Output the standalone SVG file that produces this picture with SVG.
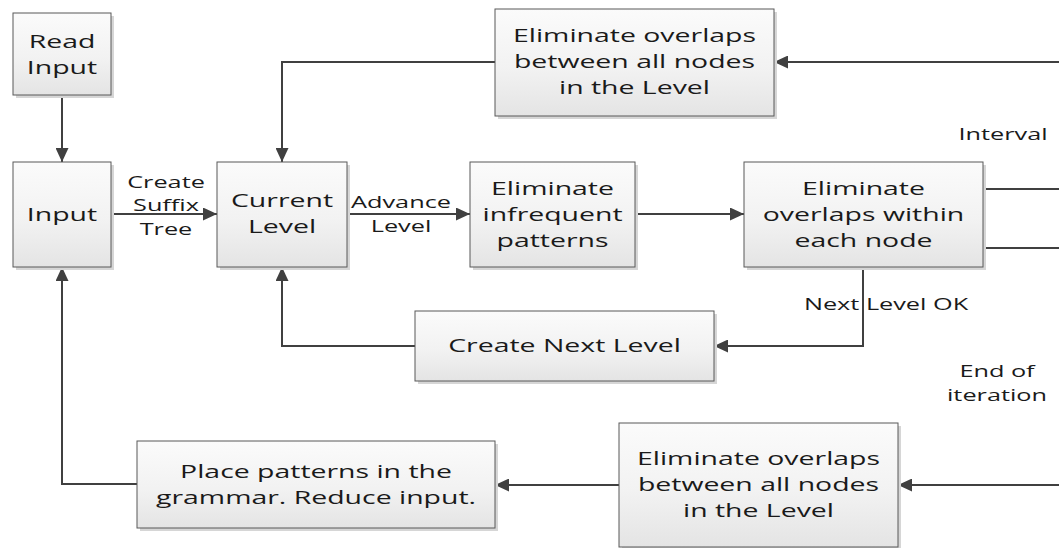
<svg xmlns="http://www.w3.org/2000/svg" width="1059" height="548" viewBox="0 0 1059 548">
  <style>
    .box { fill: url(#boxFill); stroke: #595959; stroke-width: 1; }
    .shadow { fill: #d6d6d6; }
    .edge { fill: none; stroke: #404040; stroke-width: 2; }
    .arrow { marker-end: url(#head); }
    .node { font-family: "Open Sans", "DejaVu Sans", sans-serif; font-size: 18px; fill: #1a1a1a; text-anchor: middle; }
    .lbl { font-family: "Open Sans", "DejaVu Sans", sans-serif; font-size: 16px; fill: #1a1a1a; text-anchor: middle; }
  </style>
  <defs>
    <linearGradient id="boxFill" x1="0" y1="0" x2="0" y2="1">
      <stop offset="0" stop-color="#fbfbfb"/>
      <stop offset="0.55" stop-color="#f2f2f2"/>
      <stop offset="1" stop-color="#e4e4e4"/>
    </linearGradient>
    <marker id="head" markerUnits="userSpaceOnUse" markerWidth="14" markerHeight="13" refX="14" refY="6.5" orient="auto">
      <path d="M0,0 L14,6.5 L0,13 z" fill="#404040"/>
    </marker>
  </defs>

  <!-- connectors -->
  <g id="connectors">
    <path class="edge arrow" d="M62,95 V162"/>
    <path class="edge arrow" d="M111,214 H217"/>
    <path class="edge arrow" d="M347,214 H470"/>
    <path class="edge arrow" d="M635,214 H744"/>
    <path class="edge" d="M983,189 H1059"/>
    <path class="edge" d="M983,248 H1059"/>
    <path class="edge arrow" d="M1059,62 H774"/>
    <path class="edge arrow" d="M495,62 H282 V162"/>
    <path class="edge arrow" d="M863,267 V346 H714"/>
    <path class="edge arrow" d="M415,346 H282 V267"/>
    <path class="edge arrow" d="M1059,485 H898"/>
    <path class="edge arrow" d="M619,485 H495"/>
    <path class="edge arrow" d="M137,484 H62 V267"/>
  </g>

  <!-- connector labels -->
  <g id="labels">
    <text class="lbl" transform="translate(166,0) scale(1.58,1)"><tspan x="0" y="188">Create</tspan><tspan x="0" y="211">Suffix</tspan><tspan x="0" y="235">Tree</tspan></text>
    <text class="lbl" transform="translate(401,0) scale(1.58,1)"><tspan x="0" y="208">Advance</tspan><tspan x="0" y="232">Level</tspan></text>
    <text class="lbl" transform="translate(1003,0) scale(1.58,1)"><tspan x="0" y="140">Interval</tspan></text>
    <text class="lbl" transform="translate(886,0) scale(1.58,1)"><tspan x="0" y="310">Next Level OK</tspan></text>
    <text class="lbl" transform="translate(997,0) scale(1.58,1)"><tspan x="0" y="377">End of</tspan><tspan x="0" y="401">iteration</tspan></text>
  </g>

  <g id="read-input">
    <rect class="shadow" x="16" y="16" width="98" height="82"/>
    <rect class="box" x="13" y="13" width="98" height="82"/>
    <text class="node" transform="translate(62,0) scale(1.58,1)"><tspan x="0" y="48">Read</tspan><tspan x="0" y="74">Input</tspan></text>
  </g>

  <g id="input">
    <rect class="shadow" x="16" y="165" width="98" height="105"/>
    <rect class="box" x="13" y="162" width="98" height="105"/>
    <text class="node" transform="translate(62,0) scale(1.58,1)"><tspan x="0" y="221">Input</tspan></text>
  </g>

  <g id="current-level">
    <rect class="shadow" x="220" y="165" width="130" height="105"/>
    <rect class="box" x="217" y="162" width="130" height="105"/>
    <text class="node" transform="translate(282,0) scale(1.58,1)"><tspan x="0" y="207">Current</tspan><tspan x="0" y="233">Level</tspan></text>
  </g>

  <g id="eliminate-infrequent">
    <rect class="shadow" x="473" y="165" width="165" height="105"/>
    <rect class="box" x="470" y="162" width="165" height="105"/>
    <text class="node" transform="translate(552.5,0) scale(1.58,1)"><tspan x="0" y="195">Eliminate</tspan><tspan x="0" y="221">infrequent</tspan><tspan x="0" y="247">patterns</tspan></text>
  </g>

  <g id="eliminate-within-node">
    <rect class="shadow" x="747" y="165" width="239" height="105"/>
    <rect class="box" x="744" y="162" width="239" height="105"/>
    <text class="node" transform="translate(863.5,0) scale(1.58,1)"><tspan x="0" y="195">Eliminate</tspan><tspan x="0" y="221">overlaps within</tspan><tspan x="0" y="247">each node</tspan></text>
  </g>

  <g id="eliminate-level-top">
    <rect class="shadow" x="498" y="12" width="279" height="107"/>
    <rect class="box" x="495" y="9" width="279" height="107"/>
    <text class="node" transform="translate(634.5,0) scale(1.58,1)"><tspan x="0" y="42">Eliminate overlaps</tspan><tspan x="0" y="68">between all nodes</tspan><tspan x="0" y="94">in the Level</tspan></text>
  </g>

  <g id="create-next-level">
    <rect class="shadow" x="418" y="314" width="299" height="70"/>
    <rect class="box" x="415" y="311" width="299" height="70"/>
    <text class="node" transform="translate(564.5,0) scale(1.58,1)"><tspan x="0" y="352">Create Next Level</tspan></text>
  </g>

  <g id="eliminate-level-bottom">
    <rect class="shadow" x="622" y="426" width="279" height="124"/>
    <rect class="box" x="619" y="423" width="279" height="124"/>
    <text class="node" transform="translate(758.5,0) scale(1.58,1)"><tspan x="0" y="465">Eliminate overlaps</tspan><tspan x="0" y="491">between all nodes</tspan><tspan x="0" y="517">in the Level</tspan></text>
  </g>

  <g id="place-patterns">
    <rect class="shadow" x="140" y="444" width="358" height="87"/>
    <rect class="box" x="137" y="441" width="358" height="87"/>
    <text class="node" transform="translate(316,0) scale(1.58,1)"><tspan x="0" y="478">Place patterns in the</tspan><tspan x="0" y="504">grammar. Reduce input.</tspan></text>
  </g>
</svg>
